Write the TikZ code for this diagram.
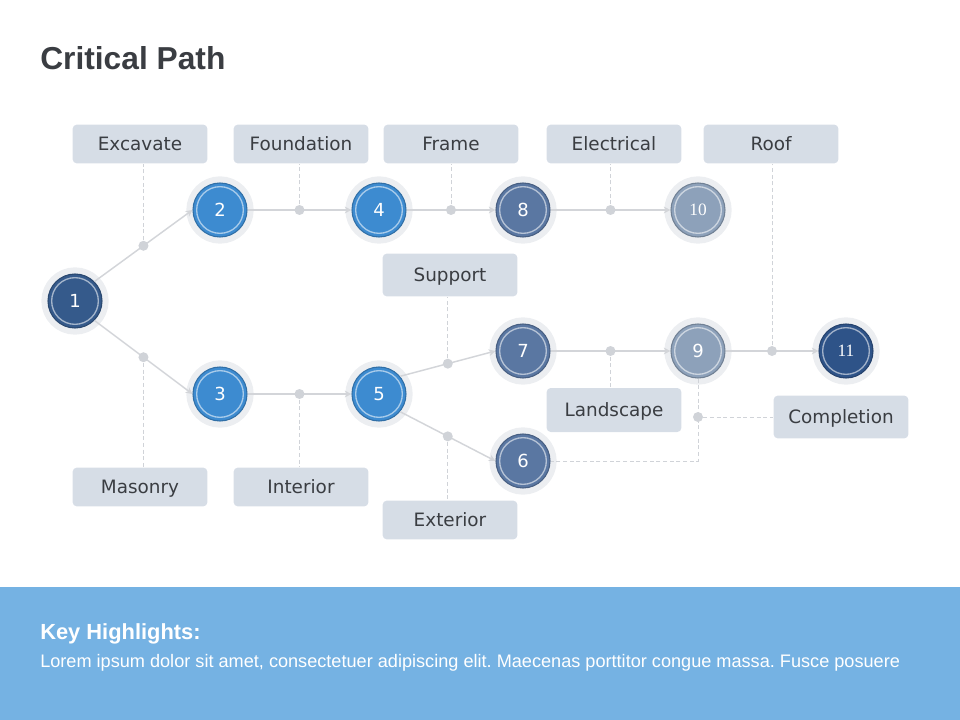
\documentclass[tikz,border=0pt]{standalone}
\usepackage{fontspec}
\setmainfont{DejaVu Sans}
\newfontfamily\titlefont{Liberation Sans}
\newfontfamily\numfont{Liberation Serif}
\usetikzlibrary{arrows.meta}
\frenchspacing

\definecolor{glow}{HTML}{ECEEF1}
\definecolor{boxfill}{HTML}{D6DDE6}
\definecolor{txt}{HTML}{3A3D42}
\definecolor{linegrey}{HTML}{D3D5D9}
\definecolor{dotgrey}{HTML}{D0D3D8}
\definecolor{navy}{HTML}{355A8B}
\definecolor{bright}{HTML}{3D8BD0}
\definecolor{slate}{HTML}{5A77A2}
\definecolor{haze}{HTML}{8DA1BA}
\definecolor{deep}{HTML}{2E5388}
\definecolor{band}{HTML}{75B2E3}

\tikzset{
  stage/.style={circle, minimum size=40.5pt, inner sep=0pt, fill=#1, draw=#1!80!black,
    line width=0.8pt, text=white, font=\fontsize{13.5}{16}\selectfont,
    preaction={draw=glow, line width=10pt},
    path picture={\draw[white!55!#1, line width=1pt] (path picture bounding box.center) circle (17.5pt);}},
  task/.style={rectangle, rounded corners=3pt, fill=boxfill, text=txt, minimum width=101pt,
    minimum height=29pt, inner sep=0pt, text height=12pt, text depth=2pt,
    font=\fontsize{13.8}{16}\selectfont},
  dot/.style={circle, fill=dotgrey, minimum size=7.5pt, inner sep=0pt},
  link/.style={draw=linegrey, line width=1.1pt, -{Stealth[length=5pt,width=5pt]}},
  lead/.style={draw=dotgrey, line width=0.5pt, dash pattern=on 3pt off 2pt}
}

\begin{document}
\begin{tikzpicture}[x=0.75pt,y=-0.75pt]

\useasboundingbox (0,0) rectangle (960,720);
\fill[band] (0,587) rectangle (960,720);

\node[anchor=base west, inner sep=0pt, text=txt, font=\titlefont\bfseries\fontsize{23.8}{27}\selectfont] (title) at (40,70) {Critical Path};

\node[stage=navy] (n1) at (75,301) {1};
\node[stage=bright] (n2) at (220,210) {2};
\node[stage=bright] (n3) at (220,394) {3};
\node[stage=bright] (n4) at (379,210) {4};
\node[stage=bright] (n5) at (379,394) {5};
\node[stage=slate] (n6) at (523,461) {6};
\node[stage=slate] (n7) at (523,351) {7};
\node[stage=slate] (n8) at (523,210) {8};
\node[stage=haze] (n9) at (698,351) {9};
\node[stage=haze, font=\numfont\fontsize{13}{16}\selectfont] (n10) at (698,210) {10};
\node[stage=deep, font=\numfont\fontsize{13}{16}\selectfont] (n11) at (846,351) {11};

\node[task] (exc) at (140,144) {Excavate};
\node[task] (fnd) at (301,144) {Foundation};
\node[task] (frm) at (451,144) {Frame};
\node[task] (ele) at (614,144) {Electrical};
\node[task] (roof) at (771,144) {Roof};
\node[task, minimum height=32pt] (sup) at (450,275) {Support};
\node[task] (mas) at (140,487) {Masonry};
\node[task] (int) at (301,487) {Interior};
\node[task] (ext) at (450,520) {Exterior};
\node[task, minimum height=33pt] (lnd) at (614,410) {Landscape};
\node[task, minimum height=32pt] (cmpl) at (841,417) {Completion};

\draw[link] (n1.45) -- node[dot] (d12) {} (n2.west);
\draw[link] (n1.-45) -- node[dot] (d13) {} (n3.west);
\draw[link] (n2) -- node[dot] (d24) {} (n4);
\draw[link] (n3) -- node[dot] (d35) {} (n5);
\draw[link] (n4) -- node[dot] (d48) {} (n8);
\draw[link] (n5.40) -- node[dot] (d57) {} (n7.west);
\draw[link] (n5.-40) -- node[dot] (d56) {} (n6.west);
\draw[link] (n8) -- node[dot] (d810) {} (n10);
\draw[link] (n7) -- node[dot] (d79) {} (n9);
\draw[link] (n9) -- node[dot] (d911) {} (n11);

\draw[lead] (d12) -- (d12 |- exc.south);
\draw[lead] (d24) -- (d24 |- fnd.south);
\draw[lead] (d48) -- (d48 |- frm.south);
\draw[lead] (d810) -- (d810 |- ele.south);
\draw[lead] (d911) -- (d911 |- roof.south);
\draw[lead] (d57) -- (d57 |- sup.south);
\draw[lead] (d13) -- (d13 |- mas.north);
\draw[lead] (d35) -- (d35 |- int.north);
\draw[lead] (d56) -- (d56 |- ext.north);
\draw[lead] (d79) -- (d79 |- lnd.north);
\draw[lead] (n9.south) -- (n9 |- n6) -- (n6.east);
\node[dot] (d69) at (n9 |- cmpl.west) {};
\draw[lead] (d69) -- (cmpl.west);

\node[anchor=base west, inner sep=0pt, text=white, font=\titlefont\bfseries\fontsize{16.4}{19}\selectfont] (key) at (40,639) {Key Highlights:};
\node[anchor=base west, inner sep=0pt, text=white, font=\titlefont\fontsize{13.6}{16}\selectfont] (body) at (40,667) {Lorem ipsum dolor sit amet, consectetuer adipiscing elit. Maecenas porttitor congue massa. Fusce posuere};
\end{tikzpicture}
\end{document}
